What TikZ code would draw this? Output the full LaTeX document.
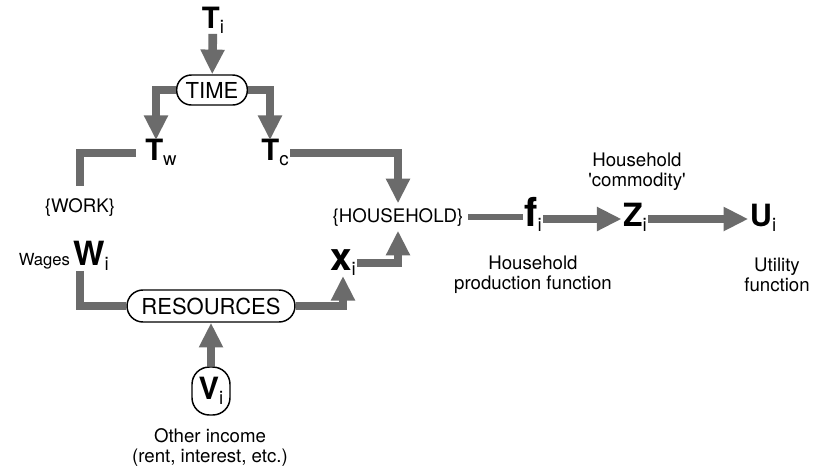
\documentclass[tikz,border=0pt]{standalone}
\usepackage{fontspec}
\setmainfont{TeX Gyre Heros}
\usetikzlibrary{arrows.meta}
\definecolor{flowgray}{gray}{0.42}
% bold letter with a plain subscript
\newcommand{\bsym}[3][20]{{\fontsize{#1}{#1}\selectfont\bfseries #2}\raisebox{-4pt}{\fontsize{14}{14}\selectfont #3}}

\begin{document}
\begin{tikzpicture}[x=0.75pt, y=-0.75pt, font=\fontsize{14}{15}\selectfont,
  flow/.style={draw=flowgray, line width=6.5pt, -{Triangle[length=18.5pt, width=17pt]}},
  bar/.style={draw=flowgray, line width=6.5pt},
  sym/.style={inner sep=1pt, text height=14pt, text depth=3pt},
  pill/.style={draw, line width=1.1pt, fill=white, inner sep=0pt, font=\fontsize{16.5}{16.5}\selectfont}]
  \useasboundingbox (0,0) rectangle (814,469);

  % time budget
  \node (ti) [sym] at (213,21) {\bsym[22]{T}{i}};
  \node (time) [pill, rounded corners=11pt, minimum width=53pt, minimum height=22.5pt] at (212,90) {TIME};
  \node (tw) [sym] at (161,153) {\bsym[22]{T}{w}};
  \node (tc) [sym] at (275,153) {\bsym[22]{T}{c}};
  \coordinate (workend) at (80,186);
  \node (work) at (80,207) {\{WORK\}};

  % resources
  \node (wi) [sym] at (91,258) {\bsym[25]{W}{i}};
  \node (wages) [anchor=base east, inner sep=1pt, font=\fontsize{12.5}{12.5}\selectfont] at (wi.base west) {Wages};
  \node (res) [pill, rounded corners=12pt, minimum width=126pt, minimum height=24pt] at (211,306) {RESOURCES};
  \node (vi) [pill, rounded corners=13pt, minimum width=28.5pt, minimum height=36pt] at (211,391) {\bsym[23]{V}{i}};
  \node (other) [align=center] at (210,447) {Other income\\(rent, interest, etc.)};
  \node (xi) [sym] at (343,263) {\bsym[29]{x}{i}};

  % household production
  \node (hh) at (398,217) {\{HOUSEHOLD\}};
  \node (fi) [sym] at (533,219) {\bsym[30]{f}{i}};
  \node (zi) [sym] at (635,219) {\bsym[24]{Z}{i}};
  \node (ui) [sym] at (763,219) {\bsym[23]{U}{i}};
  \node (commod) [align=center] at (637,172) {Household\\\textquotesingle commodity\textquotesingle};
  \node (prodfn) [align=center] at (533,275) {Household\\production function};
  \node (utilfn) [align=center] at (777,275) {Utility\\function};

  \draw[flow] (ti) -- (time);
  \draw[flow] (time.west) -| ([xshift=-3.75pt]tw.north);
  \draw[flow] (time.east) -| ([xshift=-3.75pt]tc.north);
  \draw[bar, shorten <=6pt] (tw.west) -| (workend);
  \draw[flow] (tc.east) -| (hh.north);
  \draw[bar] (wi.south -| workend) |- (res.west);
  \draw[flow] (vi) -- (res);
  \draw[flow] (res.east) -| (xi.south);
  \draw[flow] (xi.east) -| (hh.south);
  \draw[bar, line width=4.5pt] (hh.east) -- (hh.east -| fi.west);
  \draw[flow] (fi) -- (zi);
  \draw[flow] (zi) -- (ui);
\end{tikzpicture}
\end{document}
